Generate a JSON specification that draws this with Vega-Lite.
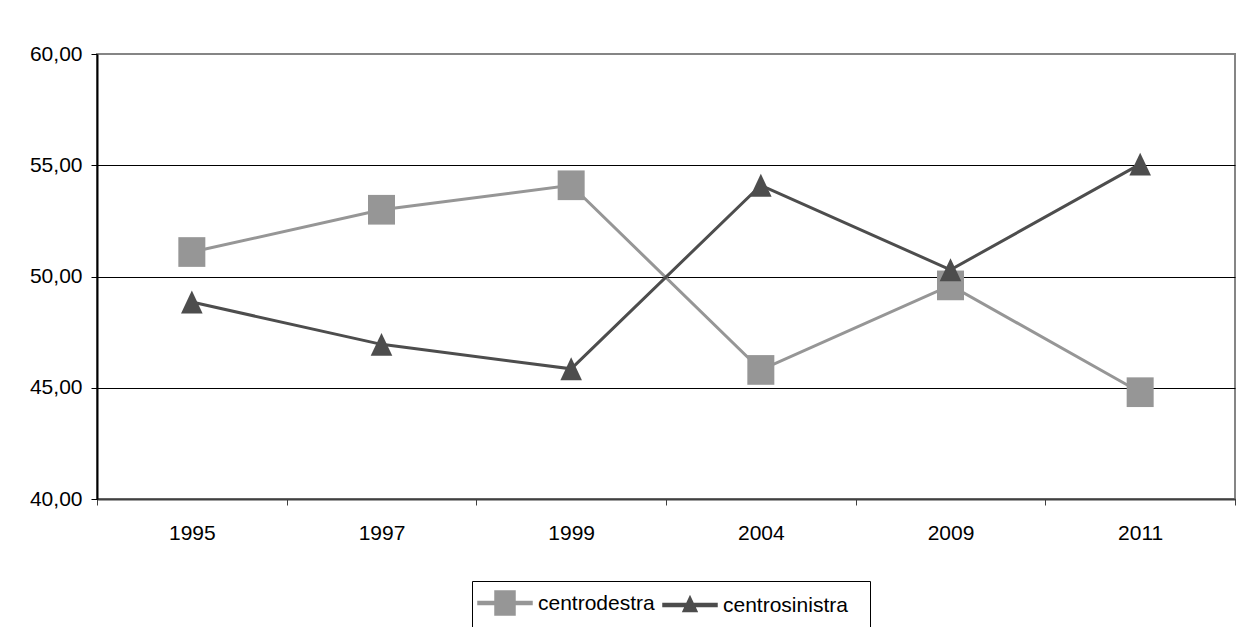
{
  "$schema": "https://vega.github.io/schema/vega-lite/v6.json",
  "width": 1138,
  "height": 445,
  "autosize": {"type": "none"},
  "padding": {"left": 97, "top": 54, "right": 17, "bottom": 128},
  "background": "white",
  "config": {
    "font": "Liberation Sans",
    "view": {"stroke": "#858585", "strokeWidth": 2},
    "axis": {"labelColor": "black", "labelFont": "Liberation Sans", "labelFontSize": 21}
  },
  "data": {
    "values": [
      {"year": "1995", "serie": "centrodestra", "value": 51.1},
      {"year": "1997", "serie": "centrodestra", "value": 53.0},
      {"year": "1999", "serie": "centrodestra", "value": 54.1},
      {"year": "2004", "serie": "centrodestra", "value": 45.8},
      {"year": "2009", "serie": "centrodestra", "value": 49.6},
      {"year": "2011", "serie": "centrodestra", "value": 44.8},
      {"year": "1995", "serie": "centrosinistra", "value": 48.85},
      {"year": "1997", "serie": "centrosinistra", "value": 46.95},
      {"year": "1999", "serie": "centrosinistra", "value": 45.85},
      {"year": "2004", "serie": "centrosinistra", "value": 54.1},
      {"year": "2009", "serie": "centrosinistra", "value": 50.3},
      {"year": "2011", "serie": "centrosinistra", "value": 55.05}
    ]
  },
  "encoding": {
    "x": {
      "field": "year",
      "type": "ordinal",
      "scale": {"paddingInner": 0, "paddingOuter": 0},
      "axis": {
        "title": null,
        "labelAngle": 0,
        "tickBand": "extent",
        "tickSize": 6,
        "tickColor": "#404040",
        "domainColor": "#404040",
        "domainWidth": 2,
        "labelPadding": 17,
        "grid": false
      }
    },
    "y": {
      "field": "value",
      "type": "quantitative",
      "scale": {"domain": [40, 60], "nice": false, "zero": false},
      "axis": {
        "title": null,
        "values": [40, 45, 50, 55, 60],
        "grid": true,
        "gridColor": {"condition": {"test": "datum.value === 60", "value": "#858585"}, "value": "black"},
        "gridWidth": 1,
        "domainColor": "black",
        "domainWidth": 2,
        "tickColor": "black",
        "tickSize": 6,
        "labelPadding": 9,
        "labelExpr": "replace(format(datum.value, '.2f'), '.', ',')"
      }
    },
    "color": {
      "field": "serie",
      "type": "nominal",
      "scale": {"domain": ["centrodestra", "centrosinistra"], "range": ["#969696", "#4d4d4d"]},
      "legend": {
        "title": null,
        "orient": "none",
        "legendX": 375,
        "legendY": 527,
        "direction": "horizontal",
        "strokeColor": "black",
        "fillColor": "white",
        "padding": 22,
        "labelFontSize": 21,
        "labelColor": "black",
        "labelFont": "Liberation Sans",
        "labelBaseline": "bottom",
        "symbolSize": 400,
        "symbolOpacity": 1,
        "labelOffset": 22,
        "columnPadding": 5
      }
    }
  },
  "layer": [
    {
      "mark": {"type": "line", "strokeWidth": 3}
    },
    {
      "transform": [{"filter": "datum.serie === 'centrodestra'"}],
      "mark": {"type": "point", "filled": true, "opacity": 1, "size": 729, "shape": "M-1,-1.1H1V1.1H-1Z"}
    },
    {
      "transform": [{"filter": "datum.serie === 'centrosinistra'"}],
      "mark": {"type": "point", "filled": true, "opacity": 1, "size": 729, "shape": "M0,-0.85L0.8,0.85H-0.8Z"}
    },
    {
      "transform": [{"filter": "false"}],
      "mark": {"type": "point", "filled": true, "opacity": 1},
      "encoding": {
        "shape": {
          "field": "serie",
          "type": "nominal",
          "scale": {
            "domain": ["centrodestra", "centrosinistra"],
            "range": [
              "M-2.7,-1.25H2.7V-0.95H-2.7ZM-1,-2.3H1V0.1H-1Z",
              "M-2.7,-1.25H2.7V-0.95H-2.7ZM0,-1.95L0.7,-0.45H-0.7Z"
            ]
          }
        }
      }
    }
  ]
}
